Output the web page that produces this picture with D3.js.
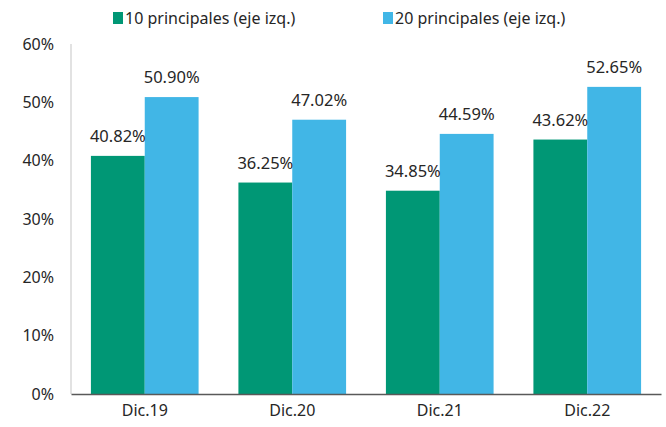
<!DOCTYPE html>
<html>
<head>
<meta charset="utf-8">
<title>principales</title>
<style>
  body { margin: 0; background: #fff; }
  svg text { font-family: "Noto Sans", "Open Sans", sans-serif; }
</style>
</head>
<body>
<svg width="666" height="427"></svg>
<script src="https://d3js.org/d3.v7.min.js"></script>
<script>
// data
var categories = ["Dic.19", "Dic.20", "Dic.21", "Dic.22"];
var seriesNames = ["10 principales (eje izq.)", "20 principales (eje izq.)"];
var top10 = [40.82, 36.25, 34.85, 43.62];
var top20 = [50.90, 47.02, 44.59, 52.65];
var yTicks = [0, 10, 20, 30, 40, 50, 60];
var colors = ["#009775", "#41b6e6"];

var svg = d3.select("svg"),
    margin = { top: 44, right: 5, bottom: 33, left: 71 },
    width = +svg.attr("width") - margin.left - margin.right,
    height = +svg.attr("height") - margin.top - margin.bottom,
    g = svg.append("g").attr("transform", "translate(" + margin.left + "," + margin.top + ")");

var rows = categories.map(function (c, i) { return { cat: c, values: [top10[i], top20[i]] }; });

var x0 = d3.scaleBand().domain(categories).range([0, width]).paddingInner(0.27).paddingOuter(0.135);
var x1 = d3.scaleBand().domain([0, 1]).range([0, x0.bandwidth()]);
var y = d3.scaleLinear().domain([0, 60]).range([height, 0]);

// y axis line (light)
g.append("line")
    .attr("x1", 0).attr("x2", 0)
    .attr("y1", 0).attr("y2", height)
    .attr("stroke", "#d9d9d9").attr("stroke-width", 1.5);

// y tick labels
var yAxis = g.append("g")
    .call(d3.axisLeft(y).tickValues(yTicks).tickSize(0).tickPadding(17).tickFormat(function (d) { return d + "%"; }));
yAxis.select(".domain").remove();
yAxis.selectAll("text").style("font-size", "16px").attr("fill", "#262626");

// bars
var grp = g.selectAll(".grp").data(rows).enter().append("g")
    .attr("transform", function (d) { return "translate(" + x0(d.cat) + ",0)"; });

grp.selectAll("rect").data(function (d) { return d.values.map(function (v, i) { return { i: i, v: v }; }); })
  .enter().append("rect")
    .attr("x", function (d) { return x1(d.i); })
    .attr("width", x1.bandwidth())
    .attr("y", function (d) { return y(d.v); })
    .attr("height", function (d) { return height - y(d.v); })
    .attr("fill", function (d) { return colors[d.i]; });

grp.selectAll(".lbl").data(function (d) { return d.values.map(function (v, i) { return { i: i, v: v }; }); })
  .enter().append("text")
    .attr("class", "lbl")
    .attr("x", function (d) { return x1(d.i) + x1.bandwidth() / 2; })
    .attr("y", function (d) { return y(d.v) - 14; })
    .attr("text-anchor", "middle")
    .style("font-size", "16.5px")
    .attr("fill", "#262626")
    .text(function (d) { return d.v.toFixed(2) + "%"; });

// x axis
var xAxis = g.append("g")
    .attr("transform", "translate(0," + height + ")")
    .call(d3.axisBottom(x0).tickSize(0).tickPadding(11));
xAxis.select(".domain").attr("stroke", "#595959").attr("stroke-width", 1.5);
xAxis.selectAll("text").style("font-size", "16px").attr("fill", "#262626");

// legend
var legX = [113, 383];
var leg = svg.selectAll(".leg").data(seriesNames).enter().append("g")
    .attr("transform", function (d, i) { return "translate(" + legX[i] + ",12)"; });
leg.append("rect").attr("width", 10).attr("height", 12)
    .attr("fill", function (d, i) { return colors[i]; });
leg.append("text").attr("x", 12).attr("y", 12)
    .style("font-size", "16px").attr("fill", "#262626")
    .text(function (d) { return d; });
</script>
</body>
</html>
